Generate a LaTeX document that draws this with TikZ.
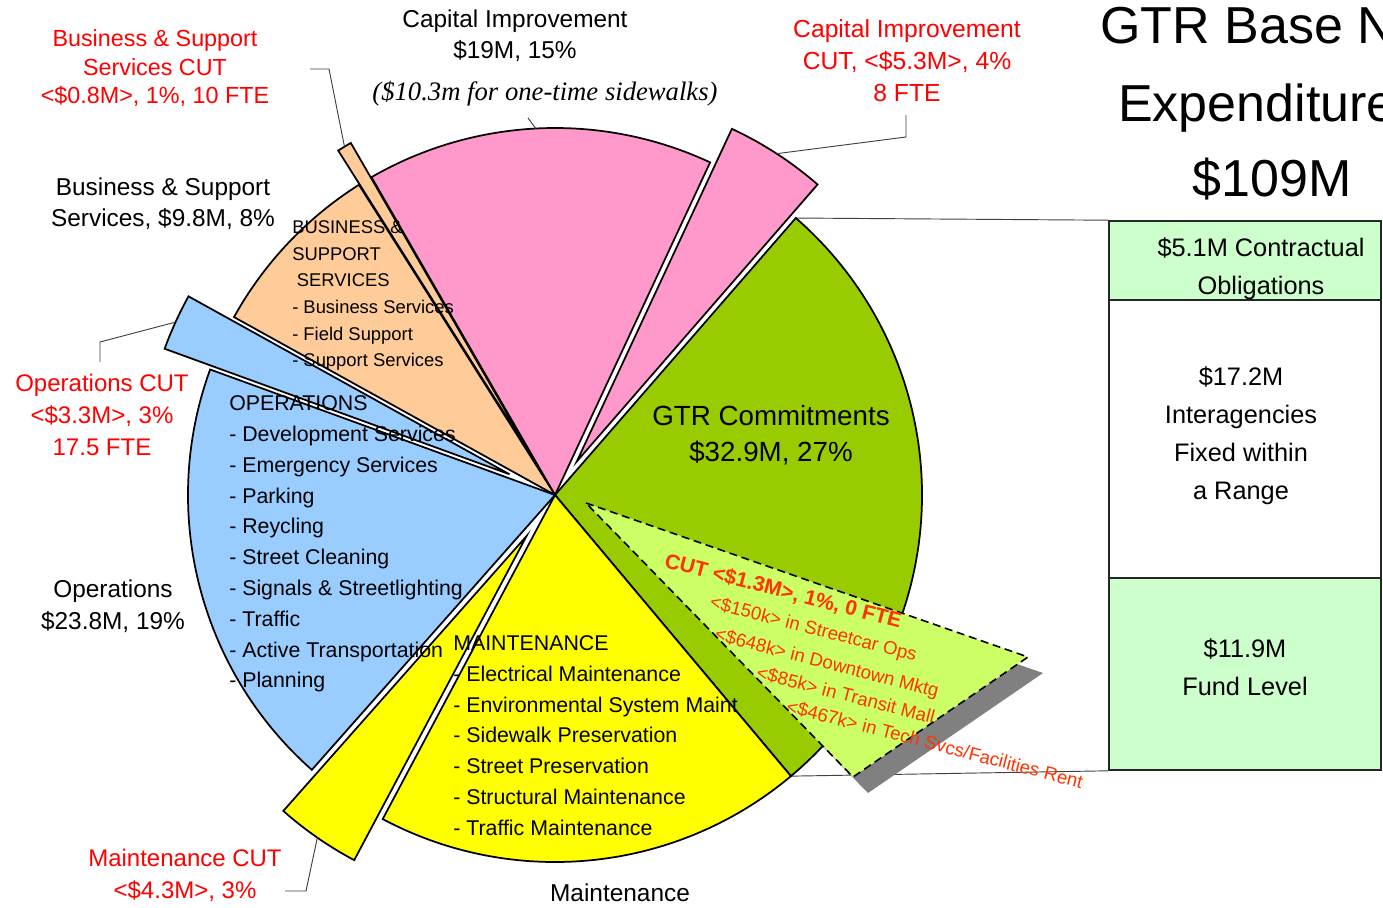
\documentclass[tikz,border=0pt]{standalone}
\usepackage{fontspec}
\setmainfont{Liberation Sans}
\newfontfamily\noteserif{Liberation Serif}
\definecolor{gtrgreen}{HTML}{99CC00}
\definecolor{cutgreen}{HTML}{CCFF66}
\definecolor{cippink}{HTML}{FF99CC}
\definecolor{bsorange}{HTML}{FFCC99}
\definecolor{opsblue}{HTML}{99CCFF}
\definecolor{mntyellow}{HTML}{FFFF00}
\definecolor{boxgreen}{HTML}{CCFFCC}
\definecolor{cutred}{HTML}{FF3300}
\definecolor{shadowgray}{HTML}{808080}

\begin{document}
\begin{tikzpicture}[x=0.75pt, y=-0.75pt,
  every node/.style={inner sep=0pt},
  slice/.style={draw=black, line width=1.3pt, line join=miter},
  leader/.style={line width=0.7pt, black!75},
  lbl/.style={align=center, font=\fontsize{18.3}{23.3}\selectfont},
  redlbl/.style={align=center, text=red, font=\fontsize{18}{24}\selectfont},
  list/.style={align=left, anchor=west, font=\fontsize{16}{23.1}\selectfont},
  cuttxt/.style={anchor=west, rotate=-14.5, text=cutred, font=\fontsize{14}{14}\selectfont},
  title/.style={font=\fontsize{39}{46}\selectfont},
  box/.style={draw=black!85, line width=1.2pt, minimum width=204pt},
  boxtxt/.style={align=center, font=\fontsize{19}{28.5}\selectfont}]
\useasboundingbox (0,0) rectangle (1383,907);
\clip (0,0) rectangle (1383,907);
\begin{scope}[shift={(555,495)}, yscale=-1]
\coordinate (gtop) at (49:367);
\coordinate (gbot) at (-50:367);
\coordinate (citick) at (93:367);
\coordinate (pcut) at (57:407);
\coordinate (ocut) at (121.15:407);
\coordinate (bcut) at (155.5:417);
\coordinate (ycut) at (235.25:417);
\end{scope}
\node[box, fill=boxgreen, minimum height=59.25pt] (obl) at (1245,260.5) {};
\node[box, fill=white, minimum height=208.5pt] (inter) at (1245,439) {};
\node[box, fill=boxgreen, minimum height=144pt] (fund) at (1245,674) {};
\draw[leader] (gtop) -- (obl.north west);
\draw[leader] (gbot) -- (fund.south west);
\fill[shadowgray] (601,519) -- (1043,673) -- (868,793) -- cycle;
\begin{scope}[shift={(555,495)}, yscale=-1]
\filldraw[slice, fill=gtrgreen] (0,0) -- (-50:367) arc[start angle=-50, end angle=49, radius=367] -- cycle;
\filldraw[slice, fill=cippink] (0,0) -- (65:367) arc[start angle=65, end angle=120, radius=367] -- cycle;
\filldraw[slice, fill=bsorange] (0,0) -- (122.3:367) arc[start angle=122.3, end angle=151, radius=367] -- cycle;
\filldraw[slice, fill=opsblue] (0,0) -- (160:367) arc[start angle=160, end angle=228.5, radius=367] -- cycle;
\filldraw[slice, fill=mntyellow] (0,0) -- (242:367) arc[start angle=242, end angle=310, radius=367] -- cycle;
% cuts pulled out of the pie
\filldraw[slice, fill=cippink] (57:40) -- ++(49:367) arc[start angle=49, end angle=65, radius=367] -- cycle;
\filldraw[slice, fill=bsorange] (121.15:40) -- ++(120:367) arc[start angle=120, end angle=122.3, radius=367] -- cycle;
\filldraw[slice, fill=opsblue] (155.5:50) -- ++(151:367) arc[start angle=151, end angle=160, radius=367] -- cycle;
\filldraw[slice, fill=mntyellow] (235.25:50) -- ++(228.5:367) arc[start angle=228.5, end angle=242, radius=367] -- cycle;
\end{scope}
\filldraw[fill=cutgreen, draw=black, line width=1.2pt, dash pattern=on 6pt off 3.5pt] (586,503) -- (1028,657) -- (853,777) -- cycle;
\coordinate (bssl1) at (310,69);
\coordinate (bssl2) at (329,69);
\coordinate (cil) at (528,118);
\coordinate (cicl1) at (906,115);
\coordinate (cicl2) at (906,137);
\coordinate (opsl1) at (100,362);
\coordinate (opsl2) at (100,342);
\coordinate (mntl1) at (285,891);
\coordinate (mntl2) at (306,891);
\draw[leader] (bssl1) -- (bssl2) -- (ocut);
\draw[leader] (cil) -- (citick);
\draw[leader] (cicl1) -- (cicl2) -- (pcut);
\draw[leader] (opsl1) -- (opsl2) -- (bcut);
\draw[leader] (mntl1) -- (mntl2) -- (ycut);
\node[redlbl, font=\fontsize{17.5}{21.4}\selectfont] (bsscutlbl) at (155,68.5) {Business \& Support\\Services CUT\\<\$0.8M>, 1\%, 10 FTE};
\node[lbl] (cilbl) at (515,35.5) {Capital Improvement\\\$19M, 15\%};
\node[font=\fontsize{20}{24}\noteserif\itshape] (cinote) at (545,94) {(\$10.3m for one-time sidewalks)};
\node[redlbl, font=\fontsize{18.5}{24}\selectfont] (cicutlbl) at (907,61) {Capital Improvement\\CUT, <\$5.3M>, 4\%\\8 FTE};
\node[title, anchor=base west] (t1) at (1100,43.6) {GTR Base N};
\node[title, anchor=base west] (t2) at (1118,121.6) {Expenditure};
\node[title, anchor=base] (t3) at (1272,196.6) {\$109M};
\node[lbl] (bsslbl) at (163,203.5) {Business \& Support\\Services, \$9.8M, 8\%};
\node[list, font=\fontsize{13.8}{20}\selectfont] (bsslist) at (292,295.5) {BUSINESS \&\\SUPPORT\\\hspace{3.5pt}SERVICES\\- Business Services\\- Field Support\\- Support Services};
\node[redlbl] (opscutlbl) at (102,415) {Operations CUT\\<\$3.3M>, 3\%\\17.5 FTE};
\node[list] (opslist) at (229,544) {OPERATIONS\\- Development Services\\- Emergency Services\\- Parking\\- Reycling\\- Street Cleaning\\- Signals \& Streetlighting\\- Traffic\\- Active Transportation\\- Planning};
\node[lbl, font=\fontsize{18.3}{24}\selectfont] (opslbl) at (113,606) {Operations\\\$23.8M, 19\%};
\node[align=center, font=\fontsize{20.8}{27}\selectfont] (gtrlbl) at (771,435.5) {GTR Commitments\\\$32.9M, 27\%};
\node[list] (mntlist) at (453,735.5) {MAINTENANCE\\- Electrical Maintenance\\- Environmental System Maint\\- Sidewalk Preservation\\- Street Preservation\\- Structural Maintenance\\- Traffic Maintenance};
\node[redlbl] (mntcutlbl) at (185,875) {Maintenance CUT\\<\$4.3M>, 3\%};
\node[lbl] (mntlbl) at (620,893) {Maintenance};
\node[cuttxt, font=\bfseries\fontsize{15.8}{15.8}\selectfont] (cut0) at (665,561) {CUT <\$1.3M>, 1\%, 0 FTE};
\node[cuttxt] (cut1) at (710,603) {<\$150k> in Streetcar Ops};
\node[cuttxt] (cut2) at (715,635) {<\$648k> in Downtown Mktg};
\node[cuttxt] (cut3) at (757,672) {<\$85k> in Transit Mall};
\node[cuttxt] (cut4) at (787,706) {<\$467k> in Tech Svcs/Facilities Rent};
\node[boxtxt] (obltxt) at (1261,269) {\$5.1M Contractual\\Obligations};
\node[boxtxt] (intertxt) at (1241,435.5) {\$17.2M\\Interagencies\\Fixed within\\a Range};
\node[boxtxt] (fundtxt) at (1245,667.5) {\$11.9M\\Fund Level};
\end{tikzpicture}
\end{document}
